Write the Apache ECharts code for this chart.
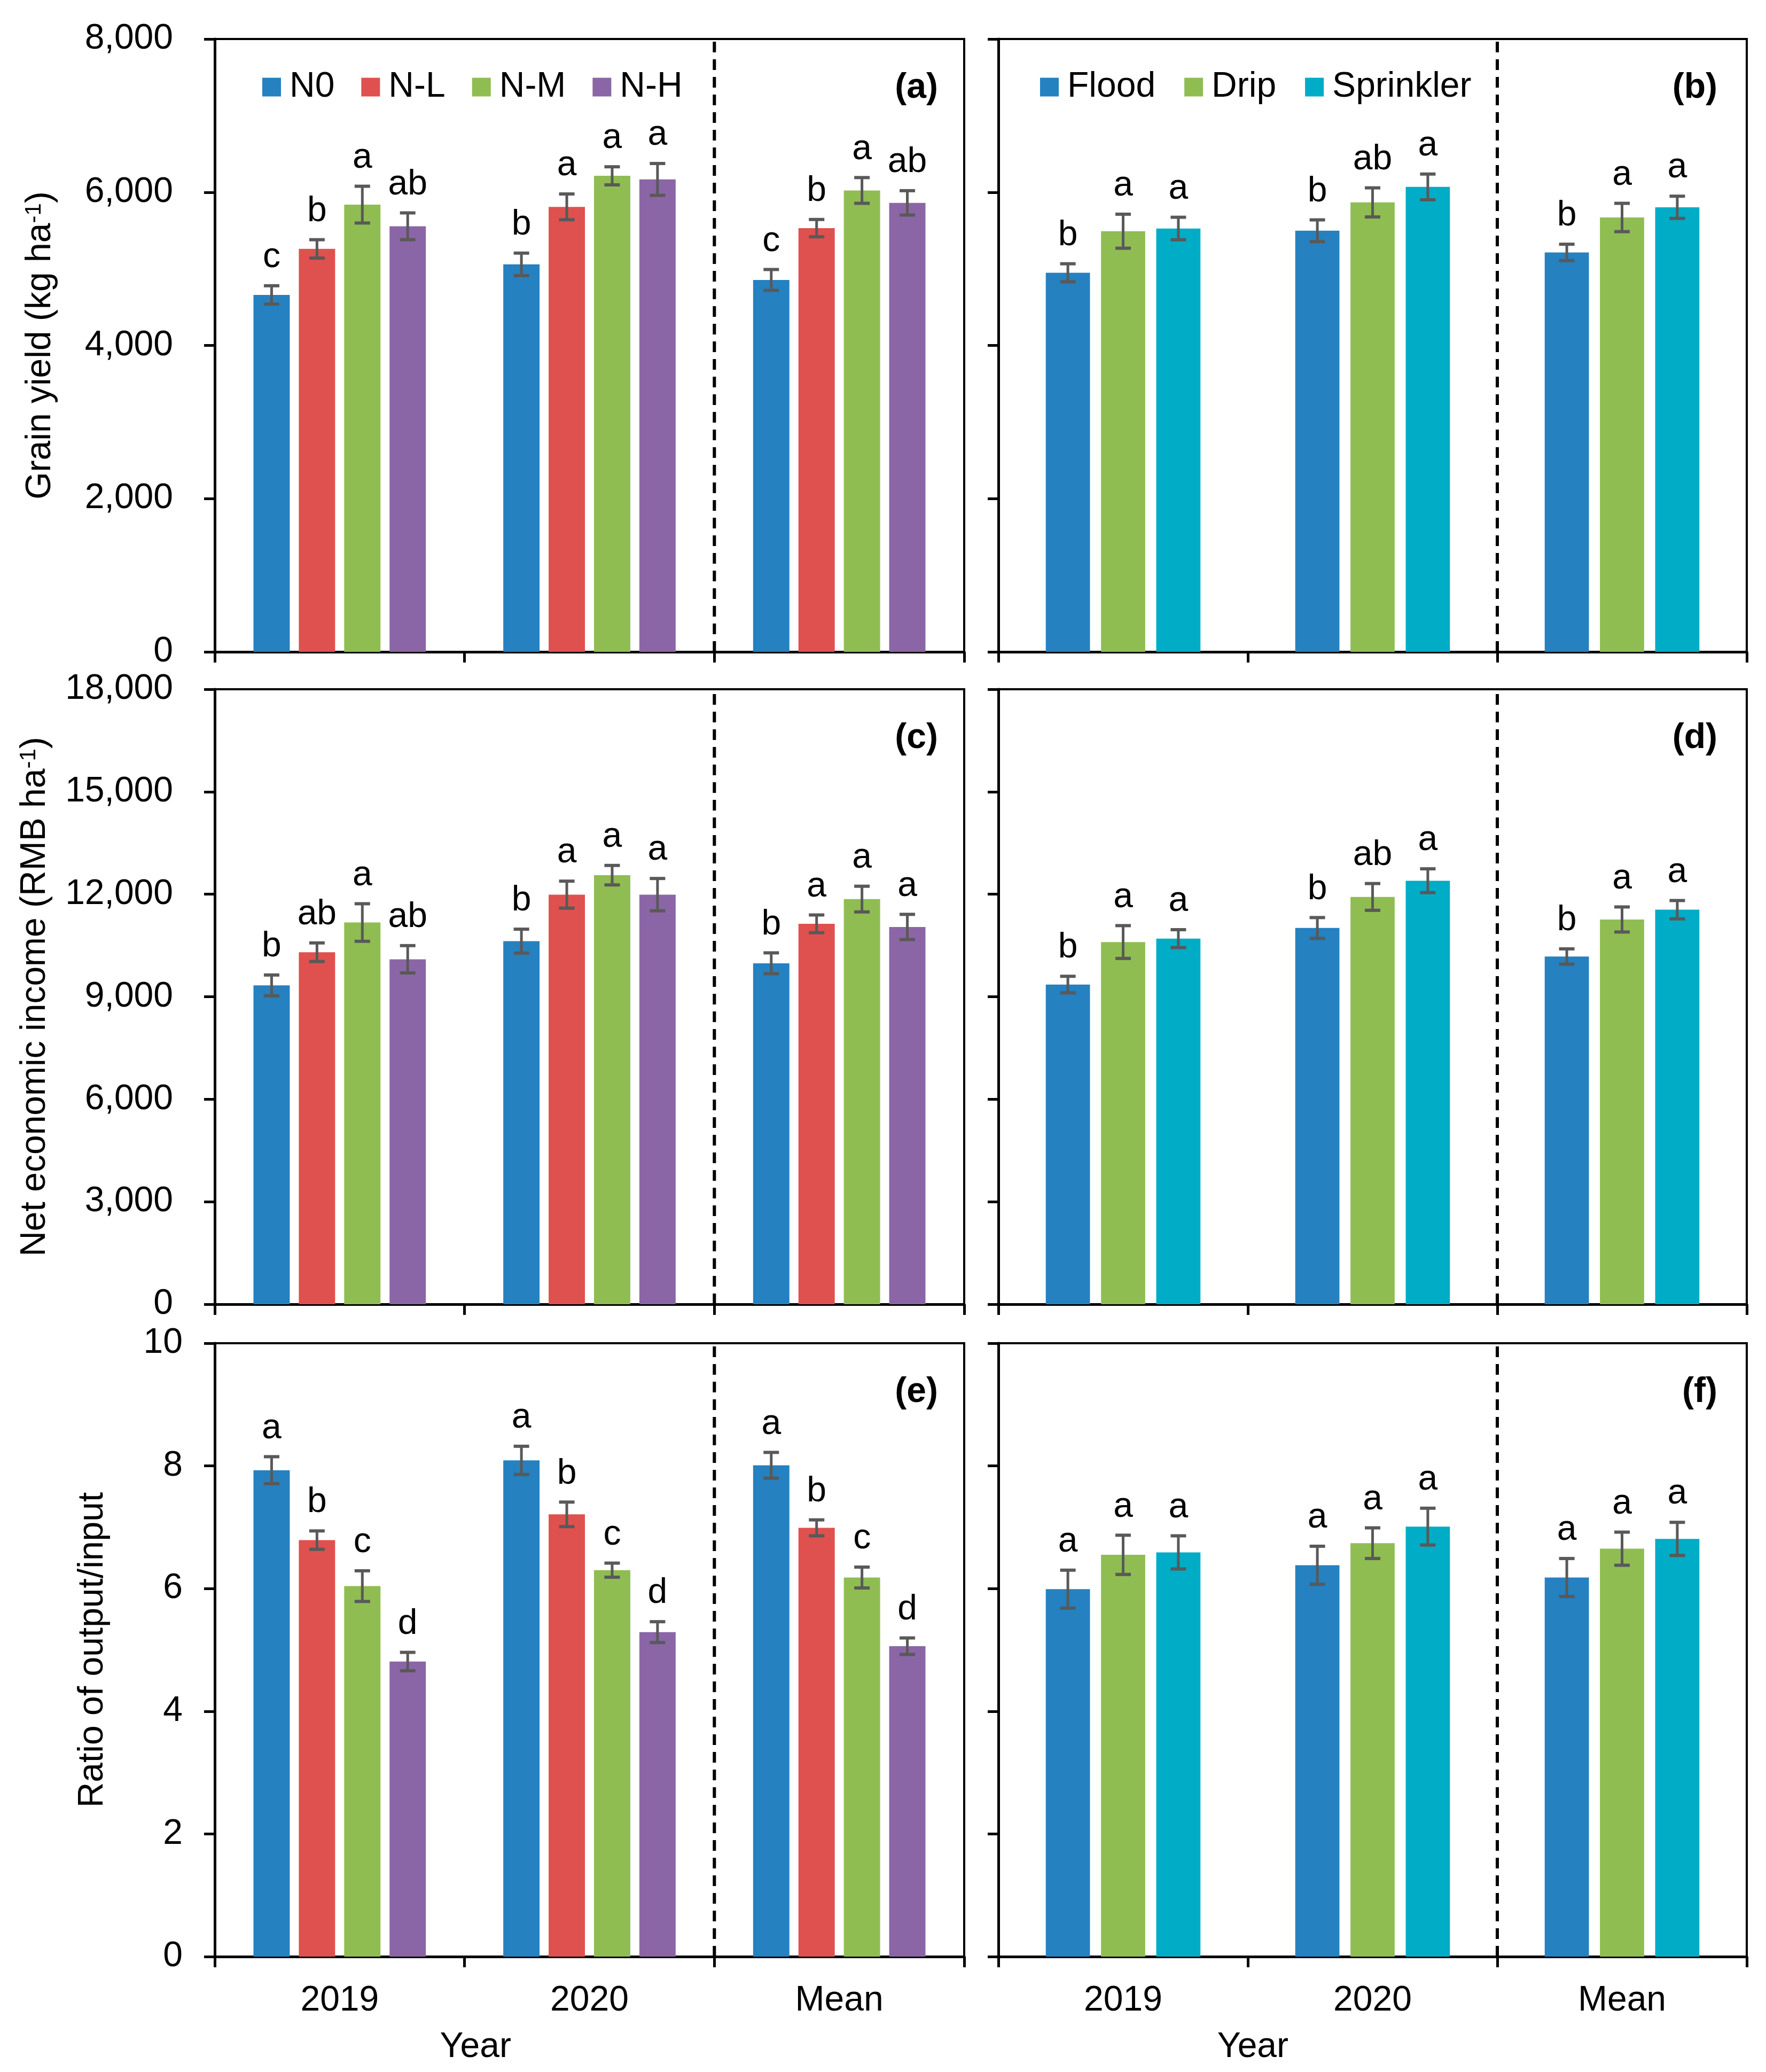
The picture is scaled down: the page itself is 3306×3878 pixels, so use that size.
<!DOCTYPE html>
<html><head><meta charset="utf-8">
<script src="https://cdn.jsdelivr.net/npm/echarts@6/dist/echarts.min.js"></script>
<style>html,body{margin:0;padding:0;background:#fff}#c{width:3306px;height:3878px}</style>
</head><body><div id="c"></div><script>
// ---------- data ----------
const years = ['2019', '2020', 'Mean'];
const nNames = ['N0', 'N-L', 'N-M', 'N-H'];
const iNames = ['Flood', 'Drip', 'Sprinkler'];

// (a) grain yield, nitrogen (rows = series, cols = years)
const yieldN    = [[4659, 5058, 4855], [5260, 5809, 5531], [5838, 6214, 6023], [5555, 6167, 5861]];
const yieldNErr = [[120, 147, 136], [120, 168, 113], [240, 118, 168], [175, 208, 159]];
const yieldNSig = [['c', 'b', 'c'], ['b', 'a', 'b'], ['a', 'a', 'a'], ['ab', 'a', 'ab']];
// (b) grain yield, irrigation
const yieldI    = [[4948, 5497, 5214], [5491, 5867, 5670], [5526, 6069, 5803]];
const yieldIErr = [[118, 142, 107], [222, 190, 185], [147, 168, 145]];
const yieldISig = [['b', 'b', 'b'], ['a', 'ab', 'a'], ['a', 'a', 'a']];
// (c) net income, nitrogen
const incomeN    = [[9331, 10627, 9979], [10303, 11988, 11133], [11172, 12558, 11858], [10096, 11988, 11042]];
const incomeNErr = [[305, 350, 305], [272, 395, 260], [550, 285, 376], [400, 473, 369]];
const incomeNSig = [['b', 'b', 'b'], ['ab', 'a', 'a'], ['a', 'a', 'a'], ['ab', 'a', 'a']];
// (d) net income, irrigation
const incomeI    = [[9355, 11012, 10177], [10601, 11921, 11261], [10701, 12395, 11548]];
const incomeIErr = [[243, 305, 224], [480, 392, 367], [262, 349, 268]];
const incomeISig = [['b', 'b', 'b'], ['a', 'ab', 'a'], ['a', 'a', 'a']];
// (e) output/input ratio, nitrogen
const ratioN    = [[7.93, 8.09, 8.01], [6.79, 7.21, 6.99], [6.04, 6.30, 6.18], [4.81, 5.29, 5.06]];
const ratioNErr = [[0.22, 0.23, 0.21], [0.15, 0.20, 0.13], [0.25, 0.115, 0.17], [0.15, 0.17, 0.135]];
const ratioNSig = [['a', 'a', 'a'], ['b', 'b', 'b'], ['c', 'c', 'c'], ['d', 'd', 'd']];
// (f) output/input ratio, irrigation
const ratioI    = [[5.99, 6.38, 6.18], [6.55, 6.74, 6.65], [6.59, 7.01, 6.81]];
const ratioIErr = [[0.31, 0.31, 0.31], [0.32, 0.25, 0.27], [0.27, 0.30, 0.27]];
const ratioISig = [['a', 'a', 'a'], ['a', 'a', 'a'], ['a', 'a', 'a']];

const yMax = [8000, 18000, 10];
const yInterval = [2000, 3000, 2];
const yNames = ['Grain yield (kg ha{sup|-1})', 'Net economic income (RMB ha{sup|-1})', 'Ratio of output/input'];
const tags = ['(a)', '(b)', '(c)', '(d)', '(e)', '(f)'];

// ---------- style / layout ----------
const FONT = '"Liberation Sans", Arial, Helvetica, sans-serif';
const FS = 66;
const nColors = ['#2581C0', '#DF514E', '#8FBD52', '#8B66A6'];
const iColors = ['#2581C0', '#8FBD52', '#00ACC6'];
const gLeft = [402, 1869], gWidth = [1403, 1401];
const gTop = [73, 1290, 2514], gHeight = [1147, 1151, 1148];
const catGap = [0.31, 0.38], barGapR = 0.25;
const labelMargin = [78, 78, 60];
const nameGap = [293, 303, 195];
const tagInset = [49, 55];

const panels = [
  { v: yieldN, e: yieldNErr, s: yieldNSig, names: nNames, colors: nColors },
  { v: yieldI, e: yieldIErr, s: yieldISig, names: iNames, colors: iColors },
  { v: incomeN, e: incomeNErr, s: incomeNSig, names: nNames, colors: nColors },
  { v: incomeI, e: incomeIErr, s: incomeISig, names: iNames, colors: iColors },
  { v: ratioN, e: ratioNErr, s: ratioNSig, names: nNames, colors: nColors },
  { v: ratioI, e: ratioIErr, s: ratioISig, names: iNames, colors: iColors }
];

function fmt(v) { return String(v).replace(/\B(?=(\d{3})+(?!\d))/g, ','); }

function makeErr(si, n, cg, sigs) {
  return function (params, api) {
    const cat = api.value(0), val = api.value(1), err = api.value(2);
    const band = api.size([1, 0])[0];
    const groupW = band * (1 - cg);
    const w = groupW / (n + (n - 1) * barGapR);
    const x = api.coord([cat, val])[0] - groupW / 2 + si * w * (1 + barGapR) + w / 2;
    const yt = api.coord([cat, val + err])[1];
    const yb = api.coord([cat, val - err])[1];
    const cw = 14.5;
    return {
      type: 'group',
      children: [
        { type: 'line', shape: { x1: x, y1: yt, x2: x, y2: yb }, style: { stroke: '#595959', lineWidth: 5 } },
        { type: 'line', shape: { x1: x - cw, y1: yt, x2: x + cw, y2: yt }, style: { stroke: '#595959', lineWidth: 6 } },
        { type: 'line', shape: { x1: x - cw, y1: yb, x2: x + cw, y2: yb }, style: { stroke: '#595959', lineWidth: 6 } },
        { type: 'text', x: x, y: yt - 20, style: { text: sigs[params.dataIndex], fill: '#000', fontSize: FS, fontFamily: FONT, align: 'center', verticalAlign: 'bottom', textAlign: 'center', textVerticalAlign: 'bottom' } }
      ]
    };
  };
}

const grid = [], xAxis = [], yAxis = [], series = [], graphic = [];
panels.forEach(function (P, p) {
  const row = Math.floor(p / 2), col = p % 2;
  grid.push({ left: gLeft[col], top: gTop[row], width: gWidth[col], height: gHeight[row], show: true, borderColor: '#000', borderWidth: 4, backgroundColor: 'transparent' });
  xAxis.push({
    type: 'category', gridIndex: p, data: years,
    axisLine: { lineStyle: { color: '#000', width: 5 } },
    axisTick: { show: true, length: 20, lineStyle: { color: '#000', width: 5 } },
    axisLabel: { show: row === 2, color: '#000', fontSize: FS, fontFamily: FONT, margin: 50 },
    splitLine: { show: false }
  });
  xAxis.push({ type: 'value', gridIndex: p, min: 0, max: 3, show: false });
  yAxis.push({
    type: 'value', gridIndex: p, min: 0, max: yMax[row], interval: yInterval[row],
    axisLine: { show: true, lineStyle: { color: '#000', width: 5 } },
    axisTick: { show: true, length: 20, lineStyle: { color: '#000', width: 5 } },
    axisLabel: { show: col === 0, color: '#000', fontSize: FS, fontFamily: FONT, margin: labelMargin[row], formatter: fmt },
    splitLine: { show: false },
    name: col === 0 ? yNames[row] : '', nameLocation: 'middle', nameRotate: 90, nameGap: nameGap[row],
    nameTextStyle: { color: '#000', fontSize: FS, fontFamily: FONT, rich: { sup: { fontSize: 42, fontFamily: FONT, color: '#000', verticalAlign: 'top' } } }
  });
  const n = P.names.length;
  P.names.forEach(function (nm, si) {
    series.push({
      type: 'bar', name: nm, xAxisIndex: 2 * p, yAxisIndex: p, data: P.v[si],
      itemStyle: { color: P.colors[si] }, barGap: '25%', barCategoryGap: (catGap[col] * 100) + '%', z: 2
    });
    series.push({
      type: 'custom', xAxisIndex: 2 * p, yAxisIndex: p, silent: true, z: 5,
      data: years.map(function (_, k) { return [k, P.v[si][k], P.e[si][k]]; }),
      encode: { x: 0, y: 1 },
      renderItem: makeErr(si, n, catGap[col], P.s[si])
    });
  });
  series.push({
    type: 'line', xAxisIndex: 2 * p + 1, yAxisIndex: p, data: [[2, 0], [2, yMax[row]]],
    symbol: 'none', silent: true, z: 3,
    lineStyle: { color: '#000', width: 6, type: [20, 13] }
  });
  graphic.push({
    type: 'text', x: gLeft[col] + gWidth[col] - tagInset[col], y: gTop[row] + 92,
    style: { text: tags[p], fill: '#000', fontSize: FS, fontWeight: 'bold', fontFamily: FONT, align: 'right', verticalAlign: 'middle', textAlign: 'right', textVerticalAlign: 'middle' }
  });
});
[0, 1].forEach(function (col) {
  graphic.push({
    type: 'text', x: gLeft[col] + gWidth[col] * (col === 0 ? 0.348 : 0.340), y: 3832,
    style: { text: 'Year', fill: '#000', fontSize: FS, fontFamily: FONT, align: 'center', verticalAlign: 'middle', textAlign: 'center', textVerticalAlign: 'middle' }
  });
});

const legendText = { color: '#000', fontSize: FS, fontFamily: FONT, padding: [0, 0, 0, 11] };
const option = {
  animation: false,
  backgroundColor: '#fff',
  textStyle: { fontFamily: FONT },
  grid: grid, xAxis: xAxis, yAxis: yAxis, series: series, graphic: graphic,
  legend: [
    { data: nNames, left: 491, top: 130, padding: 0, icon: 'rect', itemWidth: 35, itemHeight: 35, itemGap: 50, textStyle: legendText, selectedMode: false },
    { data: iNames, left: 1947, top: 130, padding: 0, icon: 'rect', itemWidth: 35, itemHeight: 35, itemGap: 54, textStyle: legendText, selectedMode: false }
  ]
};
const chart = echarts.init(document.getElementById('c'), null, { renderer: 'canvas', width: 3306, height: 3878 });
chart.setOption(option);
</script></body></html>
